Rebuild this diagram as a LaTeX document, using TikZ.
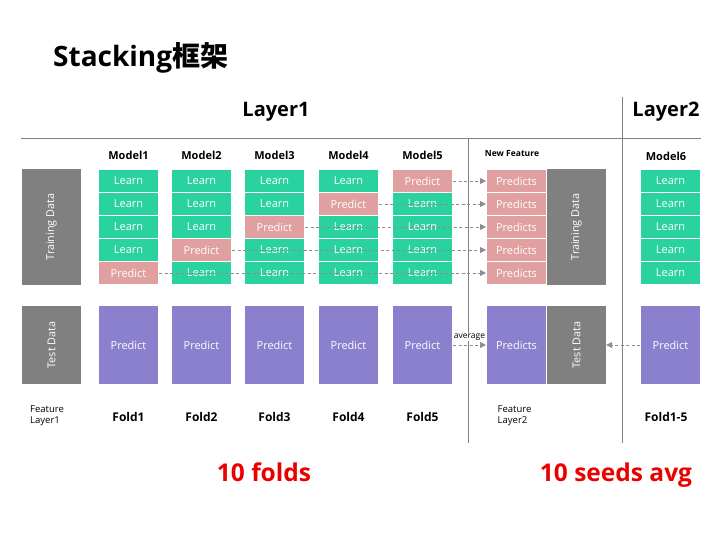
\documentclass[tikz,border=0pt]{standalone}
\usepackage{fontspec}
\setmainfont{Open Sans}
\newfontfamily\cjkfont{Noto Sans CJK SC}
\usetikzlibrary{arrows.meta, positioning}
\definecolor{learngreen}{RGB}{42,210,160}
\definecolor{predpink}{RGB}{224,160,160}
\definecolor{testpurple}{RGB}{138,128,206}
\definecolor{datagrey}{RGB}{128,128,128}
\definecolor{dashgrey}{RGB}{140,140,140}
\definecolor{foldred}{RGB}{235,0,0}

\tikzset{
    cell/.style={draw=white, line width=1pt, minimum width=60pt, minimum height=23pt, inner sep=0pt, text=white, font=\fontsize{11}{13}\selectfont},
    learn/.style={cell, fill=learngreen},
    pred/.style={cell, fill=predpink},
    testcell/.style={cell, fill=testpurple, minimum height=79pt},
    databox/.style={fill=datagrey, text=white, inner sep=0pt, rotate=90, font=\fontsize{10.8}{12}\selectfont},
    dasharrow/.style={dashgrey, line width=0.9pt, dash pattern=on 3pt off 2.5pt, -{Triangle[length=6pt, width=6pt]}},
    modellabel/.style={font=\bfseries\fontsize{11}{13}\selectfont},
    foldlabel/.style={font=\bfseries\fontsize{12}{14}\selectfont},
    layerlabel/.style={font=\bfseries\fontsize{20}{24}\selectfont},
    smalllabel/.style={font=\fontsize{9.5}{11}\selectfont, align=left, inner sep=0pt},
}

\begin{document}
\begin{tikzpicture}[x=1pt, y=-1pt]
    \useasboundingbox (0,0) rectangle (720,540);

    % Title
    \node[anchor=base west, inner sep=0pt, font=\bfseries\fontsize{28}{32}\selectfont] (title) at (53,67) {Stacking{\cjkfont 框架}};

    % Layers
    \node[layerlabel] (layer1) at (276,112) {Layer1};
    \node[layerlabel] (layer2) at (666,112) {Layer2};
    \draw[datagrey, line width=0.9pt] (21,138.5) -- (701,138.5);
    \draw[datagrey, line width=0.9pt] (468.5,138.5) -- (468.5,443);
    \draw[datagrey, line width=0.9pt] (622.5,97) -- (622.5,443);

    % Data blocks
    \node[databox, minimum width=116pt, minimum height=59pt] (train1) at (51.5,227) {Training Data};
    \node[databox, minimum width=78pt, minimum height=59pt] (test1) at (51.5,345) {Test Data};
    \node[databox, minimum width=116pt, minimum height=59pt] (train2) at (576.5,227) {Training Data};
    \node[databox, minimum width=78pt, minimum height=59pt] (test2) at (576.5,345) {Test Data};

    % Layer1 models
    \foreach \i/\x/\p in {1/128.5/5, 2/201.5/4, 3/274.5/3, 4/348.5/2, 5/422.5/1} {
        \node[modellabel] (model\i) at (\x,155) {Model\i};
        \foreach \r/\y in {1/181, 2/204, 3/227, 4/250, 5/273} {
            \ifnum\r=\p
                \node[pred] (m\i-\r) at (\x,\y) {Predict};
            \else
                \node[learn] (m\i-\r) at (\x,\y) {Learn};
            \fi
        }
        \node[testcell] (t\i) at (\x,345) {Predict};
        \node[foldlabel] (fold\i) at (\x,416.5) {Fold\i};
    }

    % New feature
    \node[font=\bfseries\fontsize{8.5}{10}\selectfont] (newfeat) at (512,154) {New Feature};
    \foreach \r/\y in {1/181, 2/204, 3/227, 4/250, 5/273}
        \node[pred] (nf-\r) at (516.5,\y) {Predicts};
    \node[testcell] (nft) at (516.5,345) {Predicts};

    % Layer2 model
    \node[modellabel] (model6) at (666,156) {Model6};
    \foreach \r/\y in {1/181, 2/204, 3/227, 4/250, 5/273}
        \node[learn] (m6-\r) at (670.5,\y) {Learn};
    \node[testcell] (t6) at (670.5,345) {Predict};
    \node[foldlabel] (fold6) at (666,416.5) {Fold1-5};

    % Feature labels
    \node[smalllabel, anchor=west] (feat1) at (30,416) {Feature\\Layer1};
    \node[smalllabel, anchor=west] (feat2) at (497.5,416) {Feature\\Layer2};

    % Arrows
    \foreach \i/\p in {1/5, 2/4, 3/3, 4/2, 5/1}
        \draw[dasharrow] (m\i-\p.east) -- (nf-\p.west);
    \draw[dasharrow] (t5.east) -- node[above=4pt, fill=white, text=black, inner sep=0.5pt, font=\fontsize{8.5}{10}\selectfont] (avg) {average} (nft.west);
    \draw[dasharrow] (t6.west) -- (test2.south);

    % Bottom notes
    \node[anchor=base, text=foldred, font=\bfseries\fontsize{24.5}{28}\selectfont] (folds) at (264,481) {10 folds};
    \node[anchor=base, text=foldred, font=\bfseries\fontsize{24.5}{28}\selectfont] (seeds) at (616,481) {10 seeds avg};
\end{tikzpicture}
\end{document}
